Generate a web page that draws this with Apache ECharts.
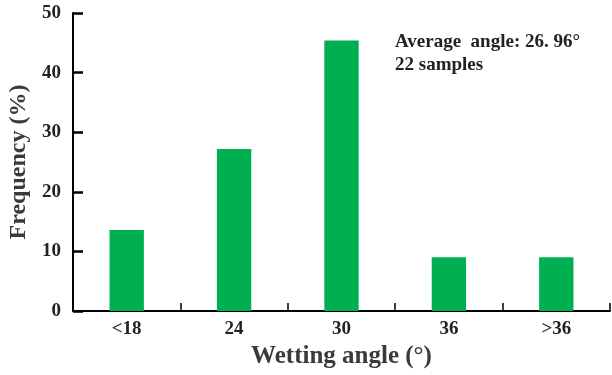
<!DOCTYPE html>
<html><head><meta charset="utf-8">
<script src="https://cdn.jsdelivr.net/npm/echarts@6/dist/echarts.min.js"></script>
<style>html,body{margin:0;padding:0;background:#fff}#c{width:612px;height:375px}</style>
</head><body><div id="c"></div>
<script>
const categories = ['<18', '24', '30', '36', '>36'];
const frequency = [13.6, 27.2, 45.4, 9.0, 9.0];
const yTicks = [0, 10, 20, 30, 40, 50];
const noteLines = ['Average  angle: 26. 96°', '22 samples'];

const font = '"Liberation Serif", "Times New Roman", serif';
const chart = echarts.init(document.getElementById('c'));
chart.setOption({
  animation: false,
  backgroundColor: '#fff',
  grid: {left: 73, right: 2, top: 13, bottom: 64, containLabel: false, outerBoundsMode: 'none'},
  xAxis: {
    type: 'category', data: categories, boundaryGap: true,
    name: 'Wetting angle (°)', nameLocation: 'middle', nameGap: 33,
    nameTextStyle: {fontFamily: font, fontWeight: 'bold', fontSize: 25, color: '#3a3a3a'},
    axisLine: {lineStyle: {color: '#000', width: 2}},
    axisTick: {show: true, inside: true, length: 8, alignWithLabel: false, lineStyle: {color: '#000', width: 1.5}},
    axisLabel: {fontFamily: font, fontWeight: 'bold', fontSize: 19, color: '#222', margin: 9},
    splitLine: {show: false}
  },
  yAxis: {
    type: 'value', min: yTicks[0], max: yTicks[yTicks.length - 1], interval: 10,
    name: 'Frequency (%)', nameLocation: 'middle', nameGap: 40, nameRotate: 90,
    nameTextStyle: {fontFamily: font, fontWeight: 'bold', fontSize: 24, color: '#3a3a3a'},
    axisLine: {show: true, lineStyle: {color: '#000', width: 2}},
    axisTick: {show: true, inside: true, length: 10, lineStyle: {color: '#000', width: 2.5}},
    axisLabel: {fontFamily: font, fontWeight: 'bold', fontSize: 19, color: '#222', margin: 12},
    splitLine: {show: false}
  },
  graphic: [{
    type: 'text', left: 395, top: 31,
    style: {text: noteLines.join('\n'), font: 'bold 19px ' + font, fill: '#222', lineHeight: 23}
  }],
  series: [{
    type: 'bar', data: frequency, barWidth: '32%',
    itemStyle: {color: '#00B050'}
  }]
});
</script></body></html>
